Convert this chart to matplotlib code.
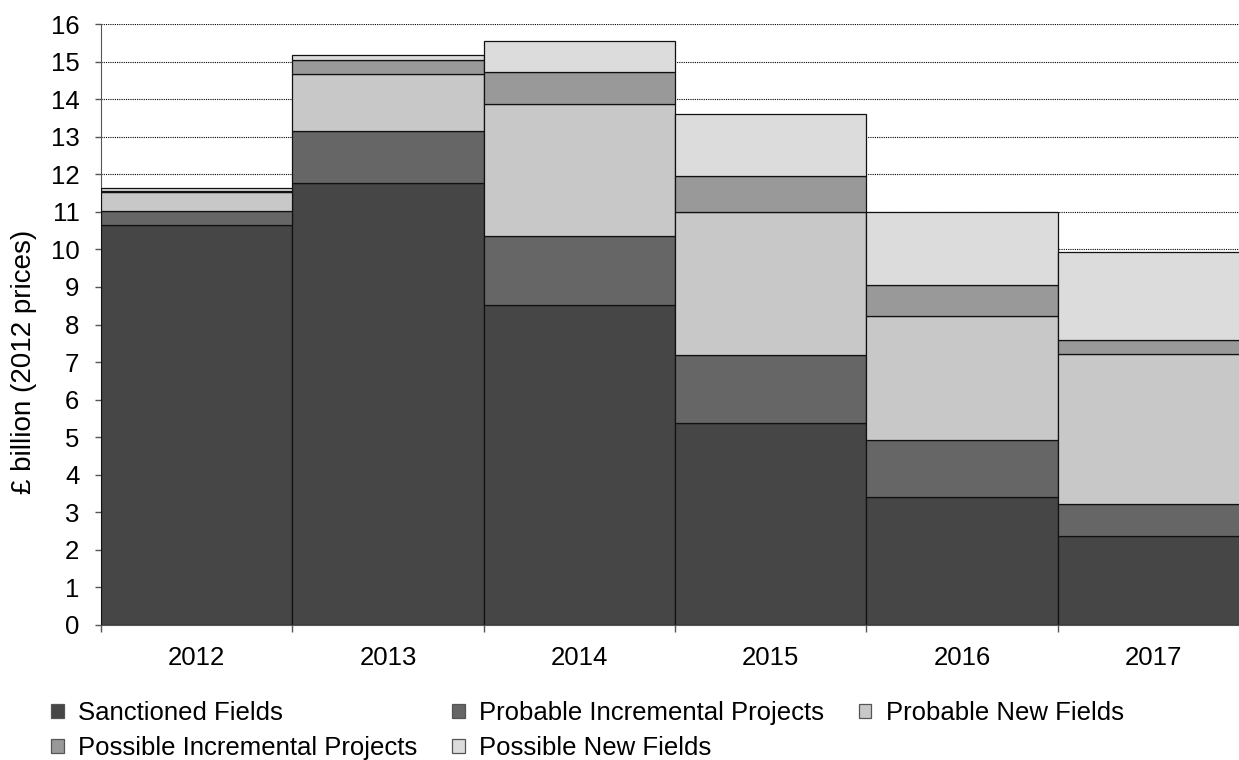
#!/usr/bin/env python3
"""Stacked capital expenditure by field category, 2012-2017."""

import matplotlib
matplotlib.use("Agg")
import matplotlib.pyplot as plt
import numpy as np


YEARS = ["2012", "2013", "2014", "2015", "2016", "2017"]

SANCTIONED = [10.65, 11.78, 8.52, 5.38, 3.41, 2.37]
PROBABLE_INCREMENTAL = [0.38, 1.38, 1.84, 1.81, 1.52, 0.85]
PROBABLE_NEW = [0.49, 1.52, 3.50, 3.81, 3.30, 4.00]
POSSIBLE_INCREMENTAL = [0.03, 0.35, 0.85, 0.95, 0.82, 0.37]
POSSIBLE_NEW = [0.09, 0.14, 0.84, 1.65, 1.95, 2.34]

SERIES = [
    ("Sanctioned Fields", SANCTIONED, "#464646"),
    ("Probable Incremental Projects", PROBABLE_INCREMENTAL, "#666666"),
    ("Probable New Fields", PROBABLE_NEW, "#c8c8c8"),
    ("Possible Incremental Projects", POSSIBLE_INCREMENTAL, "#999999"),
    ("Possible New Fields", POSSIBLE_NEW, "#dcdcdc"),
]

FONT_SIZE = 18.5


def main() -> None:
    plt.rcParams.update({"font.family": ["Liberation Sans", "DejaVu Sans"]})

    fig = plt.figure(figsize=(12.39, 7.6), dpi=100)
    ax = fig.add_axes([101 / 1239, 135 / 760, 1148 / 1239, 601 / 760])

    x = np.arange(len(YEARS))
    bottom = np.zeros(len(YEARS))
    handles = []
    for label, values, color in SERIES:
        vals = np.asarray(values)
        bars = ax.bar(
            x,
            vals,
            width=1.0,
            bottom=bottom,
            color=color,
            edgecolor="#111111",
            linewidth=0.9,
            label=label,
            zorder=3,
        )
        handles.append(bars)
        bottom += vals

    ax.set_xlim(-0.5, len(YEARS) - 0.5)
    ax.set_ylim(0, 16)
    ax.set_yticks(range(0, 17))
    ax.yaxis.grid(True, linestyle=(0, (1, 1)), color="#000000", linewidth=0.8, zorder=0)
    ax.set_axisbelow(True)

    # category labels centred, ticks on the bar boundaries
    ax.set_xticks(np.arange(len(YEARS) + 1) - 0.5)
    ax.set_xticklabels([])
    ax.set_xticks(x, minor=True)
    ax.set_xticklabels(YEARS, minor=True)
    ax.tick_params(axis="x", which="minor", length=0, pad=15, labelsize=FONT_SIZE)
    ax.tick_params(axis="x", which="major", length=5, width=1, color="#555555", direction="out")
    ax.tick_params(axis="y", length=4.5, width=1, color="#555555", direction="out",
                   labelsize=FONT_SIZE, pad=11)

    for side in ("top", "right"):
        ax.spines[side].set_visible(False)
    ax.spines["left"].set_color("#555555")
    ax.spines["bottom"].set_color("#555555")

    ax.set_ylabel("£ billion (2012 prices)", fontsize=20)
    ax.yaxis.set_label_coords(-0.0557, 0.437)

    # row-major legend: reorder for matplotlib's column filling
    order = [0, 3, 1, 4, 2]
    leg = fig.legend(
        [handles[i] for i in order],
        [SERIES[i][0] for i in order],
        loc="upper left",
        bbox_to_anchor=(51 / 1239, 59 / 760),
        ncol=3,
        frameon=False,
        fontsize=FONT_SIZE,
        borderpad=0,
        borderaxespad=0,
        handlelength=0.5,
        handleheight=0.5,
        handletextpad=0.55,
        columnspacing=1.35,
        labelspacing=0.43,
    )
    for patch in leg.get_patches():
        patch.set_edgecolor("#555555")

    fig.savefig("out.png", dpi=100)
    plt.close(fig)


if __name__ == "__main__":
    main()
